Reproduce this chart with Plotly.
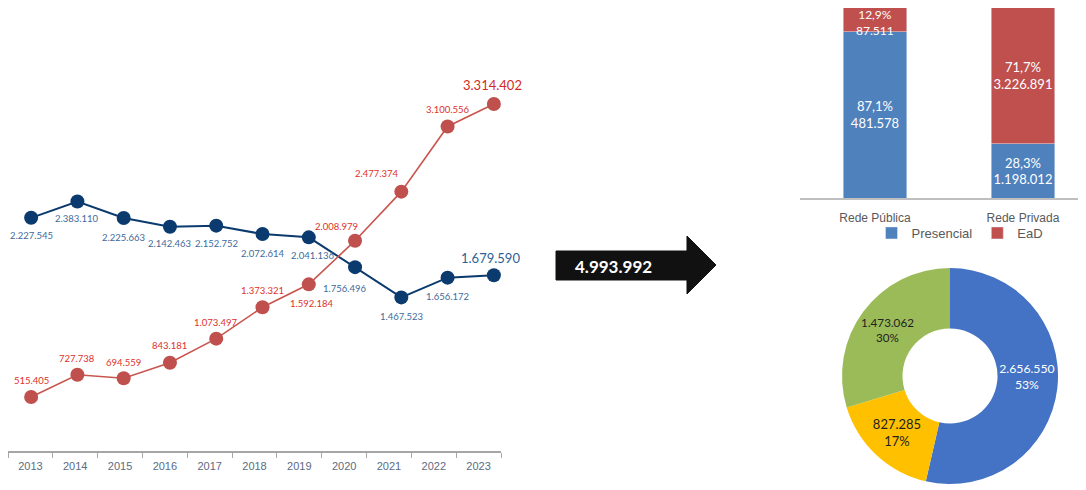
import plotly.graph_objects as go

# --- dados ---
anos = ['2013', '2014', '2015', '2016', '2017', '2018', '2019', '2020', '2021', '2022', '2023']
presencial = [2227545, 2383110, 2225663, 2142463, 2152752, 2072614, 2041136, 1756496, 1467523, 1656172, 1679590]
ead = [515405, 727738, 694559, 843181, 1073497, 1373321, 1592184, 2008979, 2477374, 3100556, 3314402]

total_2023 = '4.993.992'

redes = ['Rede Pública', 'Rede Privada']
pct_presencial = [87.1, 28.3]
pct_ead = [12.9, 71.7]
lbl_presencial = ['87,1%<br>481.578', '28,3%<br>1.198.012']
lbl_ead = ['12,9%<br>87.511', '71,7%<br>3.226.891']

donut_vals = [2656550, 827285, 1473062]
donut_lbl = ['2.656.550<br>53%', '827.285<br>17%', '1.473.062<br>30%']


def fmt(v):
    return f"{v:,}".replace(",", ".")


# a pagina tem margem de 8px no body: descontar
OFF = 8
W, H = 1086 - OFF, 490 - OFF
px = lambda x: (x - OFF) / W
py = lambda y: 1 - (y - OFF) / H

# deslocamento dos rotulos em px (estilo)
dx_pres = [0, 0, 0, 0, 0, 0, 4, -10, 0, 0, -3]
dy_pres = [-18, -17, -19, -17, -18, -19, -18, -21, -19, -19, 17]
dx_ead = [0, 0, 0, 0, 0, 0, 3, -19, -24, 0, -1]
dy_ead = [17, 16, 16, 17, 16, 17, -19, 14, 18, 17, 19]

fig = go.Figure()

# eixo de anos (so para os ticks)
fig.add_trace(go.Scatter(x=anos, y=[0] * len(anos), mode='markers',
                         marker=dict(opacity=0), showlegend=False, hoverinfo='skip'))

fig.add_trace(go.Scatter(
    x=anos, y=presencial, mode='lines+markers',
    line=dict(color='#0B3A6E', width=2),
    marker=dict(size=14, color='#0B3A6E'),
    xaxis='x3', cliponaxis=False, showlegend=False, hoverinfo='skip'))

fig.add_trace(go.Scatter(
    x=anos, y=ead, mode='lines+markers',
    line=dict(color='#C9554F', width=1.6),
    marker=dict(size=14, color='#C0504D'),
    xaxis='x3', cliponaxis=False, showlegend=False, hoverinfo='skip'))

annotations = []
for serie, dxs, dys, cor, cor_fim in [(presencial, dx_pres, dy_pres, '#3D6A9C', '#2F5F95'),
                                      (ead, dx_ead, dy_ead, '#E0302A', '#D42A24')]:
    for i, v in enumerate(serie):
        ultimo = i == len(anos) - 1
        # x pelo indice da categoria (os rotulos "2013" seriam lidos como numero)
        annotations.append(dict(
            x=i, y=v, xref='x3', yref='y', text=fmt(v), showarrow=False,
            xshift=dxs[i], yshift=dys[i],
            font=dict(family='Lato, sans-serif', size=13 if ultimo else 9.5,
                      color=cor_fim if ultimo else cor)))

# barras 100%
fig.add_trace(go.Bar(
    x=redes, y=pct_presencial, name='Presencial', marker_color='#4F81BD',
    text=lbl_presencial, textposition='inside', insidetextanchor='middle',
    textangle=0, constraintext='none',
    textfont=dict(family='Lato, sans-serif', size=13, color='white'),
    width=0.43, xaxis='x2', yaxis='y2', hoverinfo='skip'))
fig.add_trace(go.Bar(
    x=redes, y=pct_ead, name='EaD', marker_color='#C0504D',
    text=[''] + lbl_ead[1:], textposition='inside', insidetextanchor='middle',
    textangle=0, constraintext='none',
    textfont=dict(family='Lato, sans-serif', size=13, color='white'),
    width=0.43, xaxis='x2', yaxis='y2', hoverinfo='skip'))
# rotulo do segmento pequeno (rede publica, EaD)
annotations.append(dict(
    x=redes[0], y=pct_presencial[0] + pct_ead[0] / 2, xref='x2', yref='y2',
    text=lbl_ead[0], showarrow=False, yshift=-3,
    font=dict(family='Lato, sans-serif', size=12, color='white')))

# rosca
fig.add_trace(go.Pie(
    values=donut_vals, text=donut_lbl, textinfo='text',
    textposition='inside', insidetextorientation='horizontal',
    textfont=dict(family='Lato, sans-serif', size=13,
                  color=['white', '#222222', '#222222']),
    marker=dict(colors=['#4472C4', '#FFC000', '#9BBB59']),
    hole=0.44, sort=False, direction='clockwise', rotation=0,
    domain=dict(x=[px(842), px(1058)], y=[py(484), py(268)]),
    showlegend=False, hoverinfo='skip'))

# seta com total
arrow = [(556, 251), (687, 251), (687, 236), (716, 265), (687, 294), (687, 280), (556, 280)]
path = 'M ' + ' L '.join(f'{px(x):.5f},{py(y):.5f}' for x, y in arrow) + ' Z'
annotations.append(dict(text=f'<b>{total_2023}</b>', x=px(613), y=py(266),
                        xref='paper', yref='paper', showarrow=False,
                        font=dict(family='Lato, sans-serif', size=17, color='white')))

fig.update_layout(
    width=W, height=H,
    margin=dict(l=0, r=0, t=0, b=0),
    paper_bgcolor='white', plot_bgcolor='white',
    barmode='stack',
    font=dict(family='Liberation Sans Narrow, Arial Narrow, sans-serif'),
    xaxis=dict(type='category', domain=[px(8), px(501)], range=[-0.5, 10.5],
               showline=True, linecolor='#A6A6A6', linewidth=1.5,
               ticks='outside', ticklen=5, tickcolor='#A6A6A6', tickson='boundaries',
               ticklabelstandoff=4,
               tickfont=dict(size=11, color='#5B6B82'), showgrid=False, zeroline=False),
    xaxis3=dict(type='category', domain=[px(8), px(517)], range=[-0.5, 10.5],
                anchor='y', visible=False),
    yaxis=dict(domain=[py(451), py(10)], range=[0, 4.2128e6], visible=False),
    xaxis2=dict(domain=[px(800), 1.0], range=[-0.507, 1.426], anchor='y2',
                showline=True, linecolor='#BFBFBF', linewidth=1.5, ticks='',
                ticklabelstandoff=8,
                tickfont=dict(size=12, color='#595959'), showgrid=False, zeroline=False),
    yaxis2=dict(domain=[py(198), 1.0], range=[0, 99.5], visible=False),
    legend=dict(orientation='h', traceorder='normal',
                x=px(960), xanchor='center', y=py(233), yanchor='middle',
                font=dict(size=13, color='#595959'), itemwidth=30,
                bgcolor='rgba(0,0,0,0)'),
    shapes=[dict(type='path', path=path, xref='paper', yref='paper',
                 fillcolor='#111111', line=dict(color='#111111', width=1))],
    annotations=annotations,
)

fig.write_html("out.html")
